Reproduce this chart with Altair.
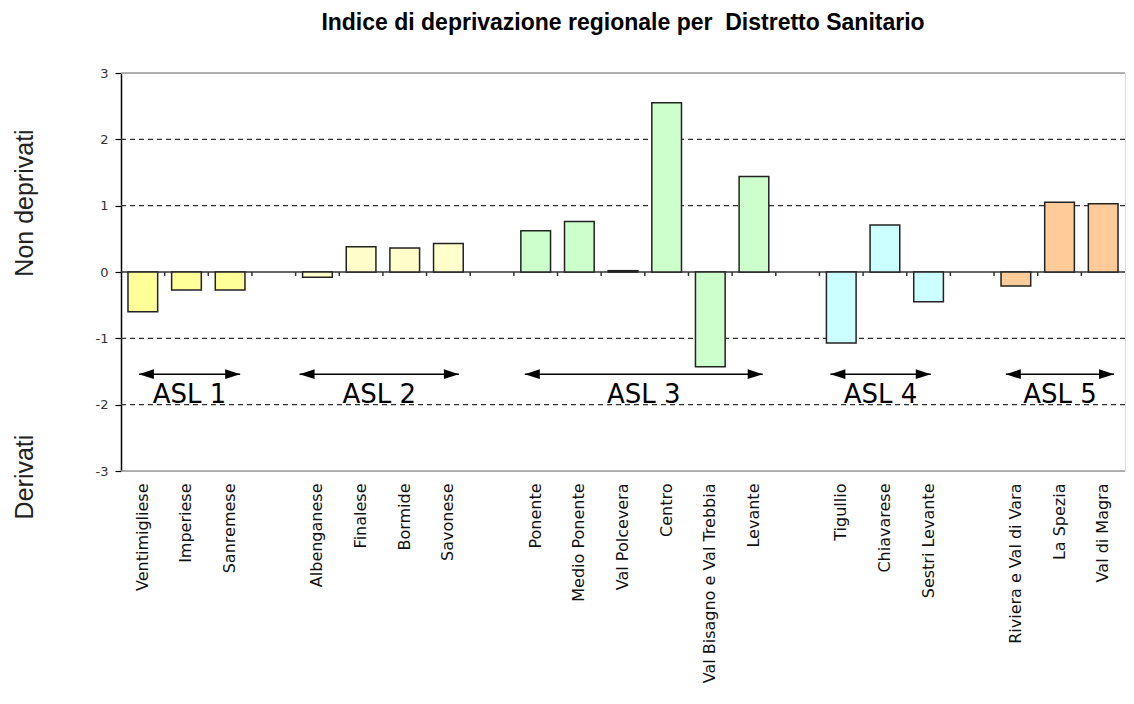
import altair as alt
import pandas as pd

# ---- data ----
districts = ["Ventimigliese", "Imperiese", "Sanremese",
             "Albenganese", "Finalese", "Bormide", "Savonese",
             "Ponente", "Medio Ponente", "Val Polcevera", "Centro",
             "Val Bisagno e Val Trebbia", "Levante",
             "Tigullio", "Chiavarese", "Sestri Levante",
             "Riviera e Val di Vara", "La Spezia", "Val di Magra"]
asl_of = ["ASL 1"] * 3 + ["ASL 2"] * 4 + ["ASL 3"] * 6 + ["ASL 4"] * 3 + ["ASL 5"] * 3
values = [-0.60, -0.27, -0.27,
          -0.08, 0.38, 0.36, 0.43,
          0.62, 0.76, 0.02, 2.55, -1.43, 1.44,
          -1.07, 0.71, -0.45,
          -0.21, 1.05, 1.03]

asl_names = ["ASL 1", "ASL 2", "ASL 3", "ASL 4", "ASL 5"]
asl_colors = ["#FFFF99", "#FFFFCC", "#CCFFCC", "#CCFFFF", "#FFCC99"]

# category order with empty gap slots between ASL groups
gaps = [" ", "  ", "   ", "    "]
order = (districts[0:3] + [gaps[0]] + districts[3:7] + [gaps[1]] +
         districts[7:13] + [gaps[2]] + districts[13:16] + [gaps[3]] + districts[16:19])
n_slots = len(order)

# ASL annotation arrows (in slot units)
arrow_start = [0.41, 4.09, 9.25, 16.25, 20.27]
arrow_end = [2.73, 7.74, 14.70, 18.55, 22.75]
arrow_y = -1.54
label_y = -1.86

y_ticks = [-3, -2, -1, 0, 1, 2, 3]
dashed_grid = [-2, -1, 1, 2]
frame_lines = [-3, 3]

W, H = 1004, 398

bars_df = pd.DataFrame({"distretto": districts, "valore": values, "asl": asl_of})
arrows_df = pd.DataFrame({"asl": asl_names, "x0": arrow_start, "x1": arrow_end,
                          "y": [arrow_y] * 5, "ly": [label_y] * 5})
arrows_df["xm"] = (arrows_df["x0"] + arrows_df["x1"]) / 2
bounds_df = pd.DataFrame({"k": list(range(1, n_slots)), "y0": 0.0, "y1": -0.06})

yscale = alt.Scale(domain=[-3, 3], nice=False, zero=False)
qx = alt.Scale(domain=[0, n_slots], nice=False, zero=False)

grid = alt.Chart(pd.DataFrame({"g": dashed_grid})).mark_rule(
    color="#333", strokeWidth=1.2, strokeDash=[5, 4]
).encode(y=alt.Y("g:Q", scale=yscale))

frame = alt.Chart(pd.DataFrame({"g": frame_lines})).mark_rule(
    color="#9a9a9a", strokeWidth=1.5
).encode(y=alt.Y("g:Q", scale=yscale))

zero = alt.Chart(pd.DataFrame({"g": [0]})).mark_rule(
    color="#333", strokeWidth=1.5
).encode(y=alt.Y("g:Q", scale=yscale))

bars = alt.Chart(bars_df).mark_bar(stroke="#222", strokeWidth=1.5).encode(
    x=alt.X("distretto:N", sort=order,
            scale=alt.Scale(domain=order, paddingInner=0.32, paddingOuter=0.16),
            axis=alt.Axis(title=None, labelAngle=270, ticks=False, domain=False,
                          labelFont="DejaVu Sans", labelFontSize=16, labelColor="#111",
                          labelPadding=12, labelOverlap=False, labelLimit=400)),
    y=alt.Y("valore:Q", scale=yscale,
            axis=alt.Axis(values=y_ticks, grid=False, title=None,
                          labelExpr="'' + datum.value",
                          domainColor="#000", domainWidth=1.5, tickColor="#000",
                          tickSize=6, tickWidth=1.2, labelFont="DejaVu Sans",
                          labelFontSize=13, labelColor="#333", labelPadding=7)),
    y2=alt.datum(0),
    color=alt.Color("asl:N", scale=alt.Scale(domain=asl_names, range=asl_colors), legend=None),
)

bticks = alt.Chart(bounds_df).mark_rule(color="#333", strokeWidth=1.5).encode(
    x=alt.X("k:Q", scale=qx, axis=None),
    y=alt.Y("y0:Q", scale=yscale),
    y2="y1:Q",
)

arrow_lines = alt.Chart(arrows_df).mark_rule(color="#000", strokeWidth=1.5).encode(
    x=alt.X("x0:Q", scale=qx, axis=None),
    x2="x1:Q",
    y=alt.Y("y:Q", scale=yscale),
)

head_l = alt.Chart(arrows_df).mark_point(
    shape="M0,0L1,-0.33L1,0.33Z", filled=True, color="#000", size=900, opacity=1
).encode(x=alt.X("x0:Q", scale=qx, axis=None), y=alt.Y("y:Q", scale=yscale))

head_r = alt.Chart(arrows_df).mark_point(
    shape="M0,0L-1,-0.33L-1,0.33Z", filled=True, color="#000", size=900, opacity=1
).encode(x=alt.X("x1:Q", scale=qx, axis=None), y=alt.Y("y:Q", scale=yscale))

asl_text = alt.Chart(arrows_df).mark_text(
    font="DejaVu Sans", fontSize=26, color="#000", baseline="middle", align="center"
).encode(x=alt.X("xm:Q", scale=qx, axis=None), y=alt.Y("ly:Q", scale=yscale), text="asl:N")

ytitle_df = pd.DataFrame({"t": ["Non deprivati", "Derivati"], "py": [130, 404]})
ytitles = alt.Chart(ytitle_df).mark_text(
    font="Liberation Sans", fontSize=25, color="#222", angle=270,
    baseline="middle", align="center"
).encode(x=alt.value(-96), y=alt.Y("py:Q", scale=None), text="t:N")

chart = alt.layer(
    grid, frame, zero, bars, bticks, arrow_lines, head_l, head_r, asl_text, ytitles
).resolve_scale(x="independent").properties(
    width=W, height=H,
    padding={"left": 5, "top": 4, "right": 0, "bottom": 5},
    title=alt.TitleParams("Indice di deprivazione regionale per\u00a0 Distretto Sanitario",
                          font="Liberation Sans", fontSize=23, fontWeight="bold",
                          color="#000", anchor="middle", offset=32),
).configure_view(stroke=None).configure(background="white")

chart.save("out.html", embed_options={"renderer": "svg", "actions": False})
